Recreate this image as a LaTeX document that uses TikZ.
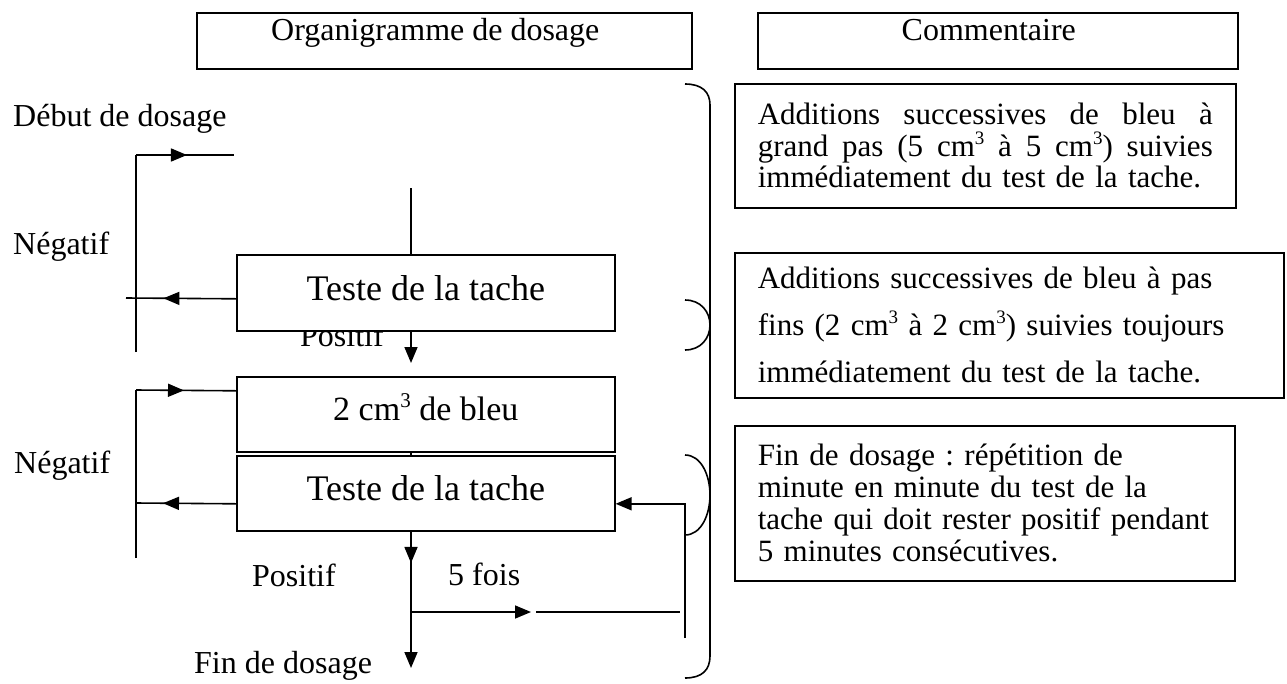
\documentclass[tikz,border=0pt]{standalone}
\usepackage{fontspec}
\setmainfont{Liberation Serif}
\usetikzlibrary{arrows.meta,decorations.markings,calc}
\frenchspacing
% small raised "3" for cubic centimetres: #1 = size, #2 = raise
\newcommand\cubic[2]{\raisebox{#2}{\fontsize{#1}{#1}\selectfont 3}}
\begin{document}
\begin{tikzpicture}[x=1pt,y=-1pt,
  ln/.style={line width=1.6pt},
  endarrow/.style={-{Triangle[length=16pt,width=13pt]}},
  midarrow/.style={postaction={decorate},decoration={markings,
      mark=at position #1 with {\arrow{Triangle[length=16pt,width=13pt]}}}},
  flowbox/.style={draw,line width=1.6pt,fill=white,minimum width=378pt,
      inner sep=0pt,anchor=north west},
  testbox/.style={flowbox,minimum height=76pt,font=\fontsize{36}{36}\selectfont,
      text height=24.5pt,text depth=10pt},
  hdr/.style={draw,line width=1.6pt,inner sep=0pt,anchor=north west,minimum height=56pt,
      font=\fontsize{32}{32}\selectfont,text height=22pt,text depth=23pt},
  lbl/.style={inner sep=0pt,anchor=base west,font=\fontsize{32}{32}\selectfont},
  note/.style={draw,line width=1.6pt,inner xsep=23pt,inner ysep=0pt,anchor=north west,
      align=left},
]
\useasboundingbox (0,0) rectangle (1287,683);

% ---- column headers
\node[hdr,minimum width=495pt] (hleft) at (196,12) {Organigramme de dosage\hspace*{18pt}};
\node[hdr,minimum width=480pt] (hright) at (757,12) {Commentaire\hspace*{18pt}};

% ---- flow labels (drawn first so that the boxes overlap them)
\node[lbl] (debut) at (13,126) {Début de dosage};
\node[lbl] (neg1) at (13,254) {Négatif};
\node[lbl] (pos1) at (300,346) {Positif};
\node[lbl] (neg2) at (14,473) {Négatif};
\node[lbl] (pos2) at (252,586) {Positif};
\node[lbl] (fois) at (448,585) {5 fois};
\node[lbl] (fin) at (194,673) {Fin de dosage};

% ---- flow boxes
\node[testbox] (t1) at (236,254) {Teste de la tache};
\node[flowbox,minimum height=75pt,font=\fontsize{34}{34}\selectfont,
      text height=24pt,text depth=12pt] (b2) at (236,376) {2 cm\cubic{21}{13pt} de bleu};
\node[testbox,minimum height=75pt] (t3) at (236,455) {Teste de la tache};

% ---- reference points of the flow lines
\coordinate (ax) at (411,0);
\coordinate (start) at (411,188);
\coordinate (p1end) at (411,363);
\coordinate (l1top) at (136,155);
\coordinate (l1in) at (234,155);
\coordinate (l1bot) at (136,352);
\coordinate (l1out) at (126,298);
\coordinate (l2top) at (136,390);
\coordinate (l2bot) at (136,558);
\coordinate (l2out) at (136,503);
\coordinate (rr) at (685,638);
\coordinate (endpt) at (411,668);
\coordinate (br) at (411,612);
\coordinate (brtip) at (531,612);
\coordinate (brfrom) at (536,612);
\coordinate (brto) at (680,612);

% first loop: large steps
\draw[ln] (l1bot) -- (l1top);
\draw[ln,midarrow=0.52] (l1top) -- (l1in);
\draw[ln,midarrow=0.66] ([yshift=-6pt]t1.west) -- (l1out);
\draw[ln] (start) -- (t1.north -| ax);
\draw[ln,endarrow] (t1.south -| ax) -- (p1end);

% second loop: fine steps
\draw[ln] (l2bot) -- (l2top);
\draw[ln,midarrow=0.48] (l2top) -- ([yshift=23.5pt]b2.west);
\draw[ln,midarrow=0.73] ([yshift=-10.5pt]t3.west) -- (l2out);
\draw[ln] (b2.south -| ax) -- (t3.north -| ax);

% end of titration: repeated test
\draw[ln,endarrow,midarrow=0.23] (t3.south -| ax) -- (endpt);
\draw[ln,endarrow] (br) -- (brtip);
\draw[ln] (brfrom) -- (brto);
\draw[ln,endarrow] (rr) |- ([yshift=-10.5pt]t3.east);

% ---- grouping brace
\draw[ln] (685,84) .. controls (702,84) and (710,92) .. (710,105) -- (710,656)
  .. controls (710,670) and (702,678) .. (685,678);
\draw[ln] (685,300) .. controls (701,300) and (710,312) .. (710,325)
  .. controls (710,338) and (701,350) .. (685,350);
\draw[ln] (685,455) .. controls (701,455) and (710,475) .. (710,495)
  .. controls (710,515) and (701,535) .. (685,535);

% ---- comments
\node[note,text width=455pt,minimum height=124pt,font=\fontsize{31}{31.5}\selectfont] (c1) at (734,83) {%
  \makebox[455pt][l]{Additions\hfill successives\hfill de\hfill bleu\hfill à}\\
  \makebox[455pt][l]{grand\hfill pas\hfill (5\hfill cm\cubic{19}{12pt}\hfill à\hfill 5\hfill cm\cubic{19}{12pt})\hfill suivies}\\
  \mbox{immédiatement du test de la tache.}};
\node[note,text width=503pt,minimum height=145pt,font=\fontsize{31}{47}\selectfont] (c2) at (734,252) {%
  \mbox{Additions successives de bleu à pas}\\
  \mbox{fins (2 cm\cubic{19}{12pt} à 2 cm\cubic{19}{12pt}) suivies toujours}\\
  \mbox{immédiatement du test de la tache.}};
\node[note,text width=454pt,minimum height=155pt,font=\fontsize{31}{32}\selectfont] (c3) at (734,425) {%
  \mbox{Fin de dosage : répétition de}\\
  \mbox{minute en minute du test de la}\\
  \mbox{tache qui doit rester positif pendant}\\
  \mbox{5 minutes consécutives.}};
\end{tikzpicture}
\end{document}
